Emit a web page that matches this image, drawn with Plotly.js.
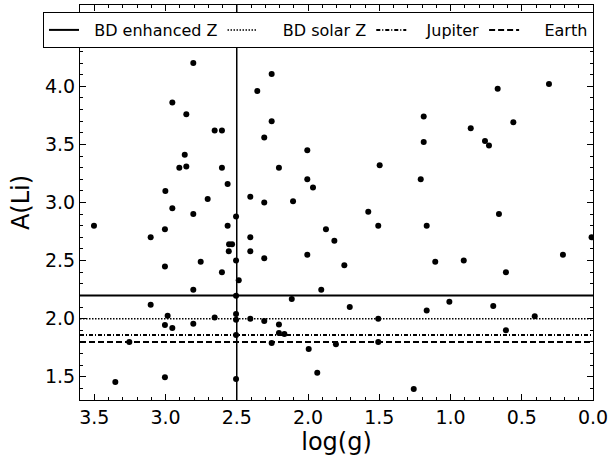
<!DOCTYPE html>
<html>
<head>
<meta charset="utf-8">
<script src="https://cdn.plot.ly/plotly-3.0.1.min.js"></script>
<style>html,body{margin:0;padding:0;background:#fff;}#chart{width:613px;height:458px;}</style>
</head>
<body>
<div id="chart"></div>
<script>
// log(g) values of the sample
const logg = [
  2.805, 2.952, 2.854, 2.655, 2.604, 2.865, 2.903, 2.854, 2.604, 2.564,
  3.001, 2.704, 2.952, 2.805, 2.505, 3.502, 3.004, 3.104, 2.564, 2.554,
  2.533, 2.556, 2.505, 2.753, 3.004, 2.604, 2.486, 2.805, 3.104, 2.985,
  2.655, 2.505, 2.505, 3.004, 2.952, 2.805, 2.505, 3.254, 3.352, 3.004,
  2.505, 2.255, 2.356, 2.255, 2.307, 2.005, 2.204, 1.497, 2.005, 1.965,
  2.405, 2.307, 2.105, 1.577, 1.507, 2.405, 1.874, 1.815, 2.405, 2.307,
  2.005, 1.745, 1.907, 2.505, 2.114, 1.707, 2.405, 2.307, 2.204, 2.204,
  2.166, 2.255, 1.995, 1.804, 1.507, 1.507, 1.935, 1.188, 0.858, 0.559,
  1.188, 0.758, 0.730, 1.209, 0.660, 0.669, 0.309, 1.167, 0.010, 1.107,
  0.907, 0.211, 0.611, 1.008, 1.167, 0.700, 0.409, 0.611, 1.258
];
// Lithium abundance A(Li)
const ali = [
  4.20, 3.86, 3.76, 3.62, 3.62, 3.41, 3.30, 3.31, 3.30, 3.16,
  3.10, 3.03, 2.95, 2.90, 2.88, 2.80, 2.77, 2.70, 2.80, 2.64,
  2.64, 2.58, 2.50, 2.49, 2.45, 2.40, 2.33, 2.25, 2.12, 2.025,
  2.01, 2.04, 1.99, 1.945, 1.92, 1.956, 1.86, 1.80, 1.455, 1.495,
  1.48, 4.106, 3.96, 3.70, 3.56, 3.45, 3.30, 3.32, 3.20, 3.13,
  3.05, 3.00, 3.01, 2.92, 2.80, 2.70, 2.77, 2.67, 2.58, 2.52,
  2.55, 2.46, 2.25, 2.197, 2.17, 2.10, 2.00, 1.98, 1.95, 1.876,
  1.868, 1.79, 1.74, 1.78, 2.00, 1.80, 1.535, 3.74, 3.64, 3.69,
  3.52, 3.53, 3.49, 3.20, 2.90, 3.98, 4.02, 2.80, 2.70, 2.49,
  2.50, 2.55, 2.40, 2.145, 2.07, 2.11, 2.02, 1.90, 1.395
];
// reference A(Li) levels
const refNames = ["BD enhanced Z", "BD solar Z", "Jupiter", "Earth"];
const refValues = [2.2, 2.0, 1.86, 1.8];
// vertical log(g) divider
const loggDivider = 2.5;
// axis ranges and ticks
const xRange = [3.6, 0.0];
const yRange = [1.3, 4.7];
const xTicks = [3.5, 3.0, 2.5, 2.0, 1.5, 1.0, 0.5, 0.0];
const yTicks = [1.5, 2.0, 2.5, 3.0, 3.5, 4.0];

const refDash = ["solid", "1.5px,1.5px", "4px,2px,1px,2px", "6px,3px"];
const refWidth = [2, 1.5, 2, 2];
const NB = '\u00a0';
// legend label leading padding to mimic matplotlib spacing
const padL = [2, 4, 3, 4];

const traces = [{
  x: logg, y: ali, mode: 'markers', type: 'scatter', showlegend: false,
  marker: {color: 'black', size: 6}
}];
refNames.forEach((n, i) => {
  traces.push({
    x: xRange, y: [refValues[i], refValues[i]], mode: 'lines', type: 'scatter',
    name: NB.repeat(padL[i]) + n,
    line: {color: 'black', width: refWidth[i], dash: refDash[i]}
  });
});
traces.push({
  x: [loggDivider, loggDivider], y: yRange, mode: 'lines', type: 'scatter',
  showlegend: false, line: {color: 'black', width: 1.5}
});

const fam = 'DejaVu Sans, sans-serif';
const axisCommon = {
  showgrid: false, zeroline: false, showline: true, linecolor: 'black', linewidth: 1,
  mirror: 'allticks', ticks: 'inside', ticklen: 6, tickwidth: 1, tickcolor: 'black',
  tickfont: {family: fam, size: 19, color: 'black'},
  minor: {ticks: 'inside', ticklen: 3, tickwidth: 1, tickcolor: 'black', dtick: 0.1, showgrid: false}
};
const mL = 20, plotL = 80, plotR = 593, W = 613;
const gsW = W - mL - (W - plotR);
const layout = {
  width: 613, height: 458,
  margin: {l: mL, r: W - plotR, t: 5, b: 58, autoexpand: false},
  paper_bgcolor: 'white', plot_bgcolor: 'white',
  font: {family: fam, size: 16, color: 'black'},
  showlegend: true,
  legend: {
    orientation: 'h', x: (43 - mL) / gsW, xanchor: 'left', y: 1 - (12 - 5) / 395, yanchor: 'top',
    bgcolor: 'white', bordercolor: 'black', borderwidth: 1,
    font: {family: fam, size: 16, color: 'black'},
    itemwidth: 30
  },
  xaxis: Object.assign({}, axisCommon, {
    domain: [(plotL - mL) / gsW, 1],
    range: xRange, tickvals: xTicks, ticktext: xTicks.map(v => v.toFixed(1)),
    title: {text: 'log(g)', font: {family: fam, size: 24, color: 'black'}, standoff: 4}
  }),
  yaxis: Object.assign({}, axisCommon, {
    range: yRange, tickvals: yTicks, ticktext: yTicks.map(v => v.toFixed(1)),
    title: {text: 'A(Li)', font: {family: fam, size: 24, color: 'black'}, standoff: 8}
  })
};
Plotly.newPlot('chart', traces, layout, {displayModeBar: false, staticPlot: true});
</script>
</body>
</html>
